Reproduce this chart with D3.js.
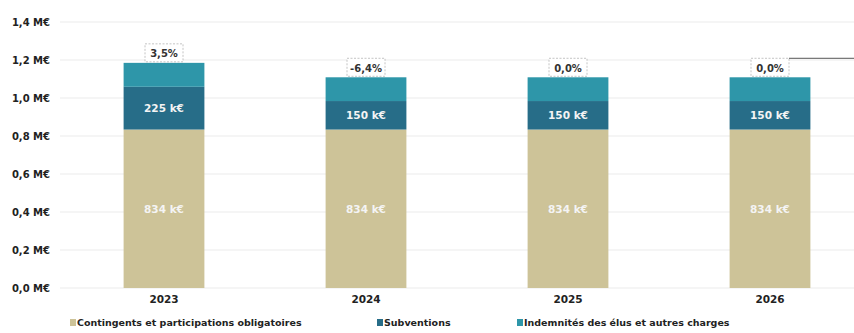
<!DOCTYPE html>
<html>
<head>
<meta charset="utf-8">
<script src="https://cdn.jsdelivr.net/npm/d3@7"></script>
<style>
  html, body { margin: 0; padding: 0; background: #fff; }
  svg { display: block; font-family: "DejaVu Sans", "Liberation Sans", Arial, sans-serif; }
</style>
</head>
<body>
<svg id="chart" width="854" height="333"></svg>
<script>
// Années et séries (k€)
const years = ["2023", "2024", "2025", "2026"];
const contingents = [834, 834, 834, 834];
const subventions = [225, 150, 150, 150];
const indemnites = [126, 125, 125, 125];
const evolutionLabels = ["3,5%", "-6,4%", "0,0%", "0,0%"];
const seriesNames = ["Contingents et participations obligatoires", "Subventions", "Indemnités des élus et autres charges"];
const yTicks = [0, 200, 400, 600, 800, 1000, 1200, 1400];
const yTickLabels = ["0,0 M€", "0,2 M€", "0,4 M€", "0,6 M€", "0,8 M€", "1,0 M€", "1,2 M€", "1,4 M€"];

const colors = ["#cdc398", "#276d88", "#2e96a9"];

const svg = d3.select("#chart");

const x = d3.scaleBand().domain(years).range([63, 871]).paddingInner(0.6).paddingOuter(0.3);
const y = d3.scaleLinear().domain([0, 1400]).range([288, 22]);

// Grille horizontale
svg.append("g")
  .selectAll("line")
  .data(yTicks)
  .join("line")
  .attr("x1", 60).attr("x2", 854)
  .attr("y1", d => y(d)).attr("y2", d => y(d))
  .attr("stroke", "#ebebeb").attr("stroke-width", 1);

// Axe Y (libellés seuls)
const yAxis = d3.axisLeft(y).tickValues(yTicks)
  .tickFormat((d, i) => yTickLabels[i]).tickSize(0).tickPadding(0);
const gy = svg.append("g").attr("transform", "translate(50,0)").call(yAxis);
gy.select(".domain").remove();
gy.selectAll("text")
  .attr("font-family", "DejaVu Sans")
  .attr("font-size", 10).attr("font-weight", "bold").attr("fill", "#222");

// Axe X (années)
const xAxis = d3.axisBottom(x).tickSize(0).tickPadding(5);
const gx = svg.append("g").attr("transform", "translate(0,291)").call(xAxis);
gx.select(".domain").remove();
gx.selectAll("text")
  .attr("font-family", "DejaVu Sans")
  .attr("font-size", 10.5).attr("font-weight", "bold").attr("fill", "#222");

// Empilement des séries
const rows = years.map((yr, i) => ({ year: yr, s0: contingents[i], s1: subventions[i], s2: indemnites[i] }));
const stack = d3.stack().keys(["s0", "s1", "s2"]);
const stacked = stack(rows);

svg.append("g")
  .selectAll("g")
  .data(stacked)
  .join("g")
  .attr("fill", (d, i) => colors[i])
  .selectAll("rect")
  .data(d => d)
  .join("rect")
  .attr("x", d => x(d.data.year))
  .attr("width", x.bandwidth())
  .attr("y", d => y(d[1]))
  .attr("height", d => y(d[0]) - y(d[1]));

// Étiquettes de valeur (contingents et subventions)
const fmt = v => v + " k€";
[0, 1].forEach(si => {
  svg.append("g")
    .selectAll("text")
    .data(stacked[si])
    .join("text")
    .attr("x", d => x(d.data.year) + x.bandwidth() / 2)
    .attr("y", d => (y(d[0]) + y(d[1])) / 2 + 4)
    .attr("text-anchor", "middle")
    .attr("font-size", 10.5).attr("font-weight", "bold")
    .attr("fill", "#f4f4f4")
    .text(d => fmt(d[1] - d[0]));
});

// Évolution annuelle au-dessus des barres
const totals = rows.map(r => r.s0 + r.s1 + r.s2);
const evo = svg.append("g")
  .selectAll("g")
  .data(years)
  .join("g")
  .attr("transform", (d, i) => `translate(${x(d) + x.bandwidth() / 2},${y(totals[i]) - 9})`);
evo.append("rect")
  .attr("x", -19).attr("y", -10).attr("width", 38).attr("height", 18)
  .attr("fill", "#fff").attr("stroke", "#b5b5b5").attr("stroke-width", 0.8)
  .attr("stroke-dasharray", "2,1.5");
evo.append("text")
  .attr("text-anchor", "middle").attr("y", 3.5)
  .attr("font-size", 10).attr("font-weight", "bold").attr("fill", "#333")
  .text((d, i) => evolutionLabels[i]);

// Trait de rappel à droite de la dernière étiquette
const lastX = x(years[3]) + x.bandwidth() / 2 + 19;
const lastY = y(totals[3]) - 19;
svg.append("line")
  .attr("x1", lastX).attr("x2", 854)
  .attr("y1", lastY).attr("y2", lastY)
  .attr("stroke", "#555").attr("stroke-width", 1);

// Légende
const legendX = [70, 377, 517];
const legend = svg.append("g")
  .selectAll("g")
  .data(seriesNames)
  .join("g")
  .attr("transform", (d, i) => `translate(${legendX[i]},326)`);
legend.append("rect")
  .attr("x", 0).attr("y", -7).attr("width", 6).attr("height", 7)
  .attr("fill", (d, i) => colors[i]);
legend.append("text")
  .attr("x", 7).attr("y", 0)
  .attr("font-size", 9.5).attr("font-weight", "bold").attr("fill", "#222")
  .text(d => d);
</script>
</body>
</html>
